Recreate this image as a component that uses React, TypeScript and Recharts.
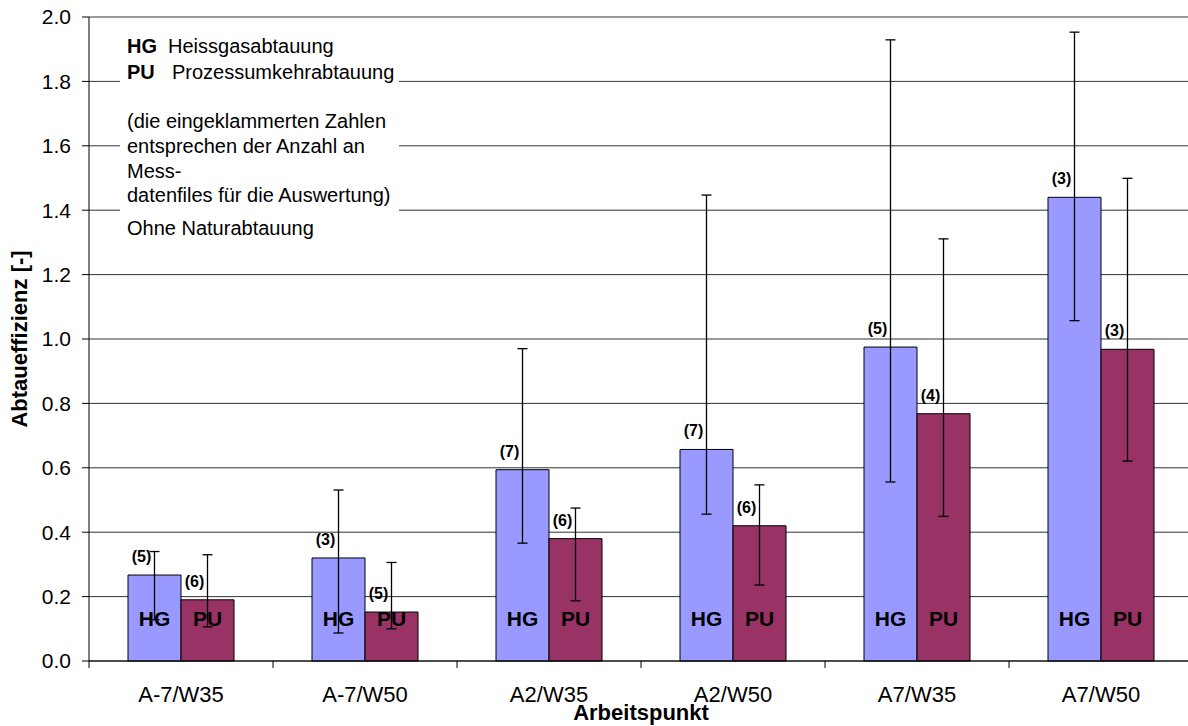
import { BarChart, Bar, XAxis, YAxis, CartesianGrid, ErrorBar, LabelList } from 'recharts'

const CATEGORIES = ['A-7/W35', 'A-7/W50', 'A2/W35', 'A2/W50', 'A7/W35', 'A7/W50']
// Heissgasabtauung
const HG = [0.267, 0.32, 0.594, 0.657, 0.975, 1.44]
const HG_LOW = [0.128, 0.087, 0.366, 0.456, 0.556, 1.057]
const HG_HIGH = [0.34, 0.531, 0.97, 1.447, 1.929, 1.953]
const HG_N = [5, 3, 7, 7, 5, 3]
// Prozessumkehrabtauung
const PU = [0.19, 0.152, 0.38, 0.42, 0.768, 0.968]
const PU_LOW = [0.106, 0.1, 0.187, 0.236, 0.449, 0.621]
const PU_HIGH = [0.33, 0.306, 0.475, 0.547, 1.311, 1.499]
const PU_N = [6, 5, 6, 6, 4, 3]
const Y_TICKS = [0, 0.2, 0.4, 0.6, 0.8, 1.0, 1.2, 1.4, 1.6, 1.8, 2.0]

const data = CATEGORIES.map((c, i) => ({
  name: c,
  hg: HG[i],
  pu: PU[i],
  hgErr: [HG[i] - HG_LOW[i], HG_HIGH[i] - HG[i]],
  puErr: [PU[i] - PU_LOW[i], PU_HIGH[i] - PU[i]],
  hgN: HG_N[i],
  puN: PU_N[i],
}))

const FONT = 'Arial, "Liberation Sans", sans-serif'
const CHART_W = 1200
const PLOT_LEFT = 89
const PLOT_RIGHT = 1193
const HALF_BAND = (PLOT_RIGHT - PLOT_LEFT) / CATEGORIES.length / 2

function XTick({ x, y, payload }: any) {
  return (
    <g>
      <line x1={x - HALF_BAND} y1={y} x2={x - HALF_BAND} y2={y + 7} stroke="#000" />
      <text x={x} y={y + 41} textAnchor="middle" fontSize={22} fontFamily={FONT} fill="#000">{payload.value}</text>
    </g>
  )
}

const countLabel = (p: any) => (
  <text x={p.x + p.width / 2 - 13} y={p.y - 13} textAnchor="middle" fontSize={16} fontWeight="bold" fontFamily={FONT} fill="#000">
    ({p.value})
  </text>
)

const nameLabel = (name: string) => (p: any) => (
  <text x={p.x + p.width / 2} y={p.y + p.height - 35} textAnchor="middle" fontSize={21} fontWeight="bold" fontFamily={FONT} fill="#000">
    {name}
  </text>
)

const legendLines = [
  { b: 128, t: '(die eingeklammerten Zahlen' },
  { b: 153, t: 'entsprechen der Anzahl an' },
  { b: 178, t: 'Mess-' },
  { b: 202, t: 'datenfiles für die Auswertung)' },
  { b: 235, t: 'Ohne Naturabtauung' },
]

export default function App() {
  const lineStyle = (b: number): any => ({ position: 'absolute', left: 127, top: b - 17, fontSize: 20, lineHeight: '20px', whiteSpace: 'pre' })
  return (
    <div style={{ position: 'absolute', left: 0, top: 0, width: 1188, height: 726, overflow: 'hidden', background: '#fff', fontFamily: FONT }}>
      <BarChart width={CHART_W} height={726} data={data} margin={{ top: 17, right: CHART_W - PLOT_RIGHT, left: 0, bottom: 0 }} barGap={0} barSize={53}>
        <CartesianGrid vertical={false} stroke="#333" />
        <XAxis dataKey="name" height={65} tickSize={0} tickMargin={0} tick={<XTick />} axisLine={{ stroke: '#000' }}
          label={{ content: () => <text x={(PLOT_LEFT + PLOT_RIGHT) / 2} y={720} textAnchor="middle" fontSize={22} fontWeight="bold" fontFamily={FONT} fill="#000">Arbeitspunkt</text> }} />
        <YAxis width={PLOT_LEFT} domain={[0, 2]} ticks={Y_TICKS} tickFormatter={(v: number) => v.toFixed(1)} tickSize={7} tickMargin={11}
          tick={{ fontSize: 21, fill: '#000', fontFamily: FONT }} axisLine={{ stroke: '#000' }} tickLine={{ stroke: '#000' }}
          label={{ content: () => <text x={27} y={339} transform="rotate(-90 27 339)" textAnchor="middle" fontSize={22} fontWeight="bold" fontFamily={FONT} fill="#000">Abtaueffizienz [-]</text> }} />
        <Bar dataKey="hg" fill="#9999FF" stroke="#000" strokeWidth={1} isAnimationActive={false}>
          <ErrorBar dataKey="hgErr" direction="y" width={5} stroke="#000" strokeWidth={1.3} isAnimationActive={false} />
          <LabelList dataKey="hgN" content={countLabel} />
          <LabelList dataKey="hg" content={nameLabel('HG')} />
        </Bar>
        <Bar dataKey="pu" fill="#993366" stroke="#000" strokeWidth={1} isAnimationActive={false}>
          <ErrorBar dataKey="puErr" direction="y" width={5} stroke="#000" strokeWidth={1.3} isAnimationActive={false} />
          <LabelList dataKey="puN" content={countLabel} />
          <LabelList dataKey="pu" content={nameLabel('PU')} />
        </Bar>
      </BarChart>
      <div style={{ position: 'absolute', left: 120, top: 24, width: 279, height: 236, background: '#fff' }}>
      </div>
      <div style={lineStyle(53)}><b style={{ display: 'inline-block', width: 41 }}>HG</b>Heissgasabtauung</div>
      <div style={lineStyle(79)}><b style={{ display: 'inline-block', width: 45 }}>PU</b>Prozessumkehrabtauung</div>
      {legendLines.map(l => <div key={l.b} style={lineStyle(l.b)}>{l.t}</div>)}
    </div>
  )
}
